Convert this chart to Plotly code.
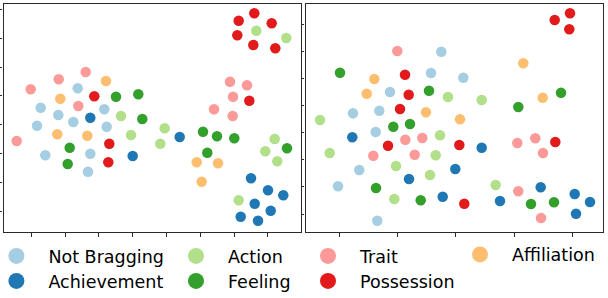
import plotly.graph_objects as go

# ---------------- data (arbitrary embedding units) ----------------
categories = ["Not Bragging", "Achievement", "Action", "Feeling",
              "Trait", "Possession", "Affiliation"]
colors = ["#a6cee3", "#1f78b4", "#b2df8a", "#33a02c",
          "#fb9a99", "#e31a1c", "#fdbf6f"]

# left panel
L_notbrag_x = [74.2, 37.2, 54.8, 69.8, 100.8, 33.5, 103.2, 41.8, 86.8, 84.5]
L_notbrag_y = [143.7, 124.3, 117, 110, 122.7, 106.3, 105.3, 76.7, 78.3, 60.3]
L_achieve_x = [86.8, 129.2, 176.2, 247.5, 264.5, 279.8, 251.2, 267.2, 237.2, 254.5]
L_achieve_y = [114.3, 76, 95, 53.7, 41.7, 36.7, 28.3, 21.3, 15.3, 11.3]
L_action_x = [252.8, 282.8, 117.5, 127.5, 161.2, 156.8, 271.2, 261.8, 273.8, 235.2]
L_action_y = [201.3, 194, 116, 97, 103.7, 88.3, 93, 80.7, 70.7, 31.7]
L_feeling_x = [112.5, 134.8, 138.8, 66.2, 64.2, 199.5, 213.5, 230.8, 203.8, 283.5]
L_feeling_y = [135.3, 137.7, 113, 84.3, 68, 100.3, 95.7, 93.7, 79.3, 83.7]
L_trait_x = [82.2, 55.2, 27.2, 74.8, 13.2, 226.5, 243.5, 229.5, 210.5, 229.2]
L_trait_y = [160, 152.7, 142.7, 126, 91, 150.3, 146.7, 135.3, 122.7, 116]
L_possess_x = [235.2, 250.8, 268.2, 233.8, 249.8, 271.8, 90.8, 105.8, 104.8, 245.8]
L_possess_y = [211.3, 218.7, 208.7, 196.7, 187, 183.7, 135.7, 88.3, 69.7, 131.3]
L_affil_x = [102.5, 56.8, 53.8, 83.8, 193.2, 214.5, 198.2]
L_affil_y = [151, 133.3, 97.7, 96.3, 69.7, 68.7, 50.3]

# right panel
R_notbrag_x = [135.8, 125.5, 157.8, 84.5, 47.5, 73.8, 70.2, 53.8, 32.5, 71.8]
R_notbrag_y = [180.3, 159, 154.3, 140, 118.7, 121.3, 100, 62, 45.7, 11.3]
R_achieve_x = [46.8, 176.2, 149.8, 103.5, 137.2, 194.5, 235.2, 269.2, 284.5, 270.5]
R_achieve_y = [94.7, 84.3, 63, 53, 35.3, 31, 44.7, 38, 30, 18.3]
R_action_x = [142.5, 176.2, 14.5, 134.5, 24.2, 130.2, 90.5, 124.5, 88.8, 190.2]
R_action_y = [135, 132, 112, 96.7, 79, 76.7, 66, 57, 33, 47]
R_feeling_x = [34.5, 123.5, 255.5, 212.8, 87.8, 104.5, 70.5, 115.2, 225.5, 248.5]
R_feeling_y = [159.3, 141.3, 139.3, 125, 105.3, 108, 44, 31.7, 28, 29.7]
R_trait_x = [91.8, 99.8, 116.8, 67.8, 109.2, 211.8, 229.8, 237.5, 212.8, 235.5]
R_trait_y = [181, 92.3, 94, 76.3, 77.3, 89, 93.7, 79, 40.7, 14]
R_possess_x = [249.2, 264.5, 263.8, 99.5, 103.2, 94.5, 82.5, 153.8, 249.8, 158.8]
R_possess_y = [212, 218.7, 202.7, 157.3, 137.3, 123, 86.3, 87, 90, 28.3]
R_affil_x = [217.8, 68.8, 61.2, 237.2, 120.5, 154.5]
R_affil_y = [168.7, 153, 138.3, 134.3, 119.7, 112.7]

left_sets = [(L_notbrag_x, L_notbrag_y), (L_achieve_x, L_achieve_y),
             (L_action_x, L_action_y), (L_feeling_x, L_feeling_y),
             (L_trait_x, L_trait_y), (L_possess_x, L_possess_y),
             (L_affil_x, L_affil_y)]
right_sets = [(R_notbrag_x, R_notbrag_y), (R_achieve_x, R_achieve_y),
              (R_action_x, R_action_y), (R_feeling_x, R_feeling_y),
              (R_trait_x, R_trait_y), (R_possess_x, R_possess_y),
              (R_affil_x, R_affil_y)]

# unlabeled tick positions
L_xticks = [27.7 + 33.8 * k for k in range(8)]
L_yticks = [20.7 + 28.86 * k for k in range(8)]
R_xticks = [33.8 + 58.25 * k for k in range(5)]
R_yticks = [18.0 + 27.14 * k for k in range(8)]

# ---------------- figure ----------------
W, H = 608, 298
fig = go.Figure()

MS = 10.5
for (xs, ys), col in zip(left_sets, colors):
    fig.add_trace(go.Scatter(x=xs, y=ys, mode="markers", xaxis="x", yaxis="y",
                             marker=dict(size=MS, color=col, line=dict(width=0)),
                             showlegend=False, hoverinfo="skip"))
for (xs, ys), col in zip(right_sets, colors):
    fig.add_trace(go.Scatter(x=xs, y=ys, mode="markers", xaxis="x2", yaxis="y2",
                             marker=dict(size=MS, color=col, line=dict(width=0)),
                             showlegend=False, hoverinfo="skip"))

# legend entries: one legend per entry so columns match the reference
# (marker centre in pixels, and right edge of the text for the first column)
leg_pos = {
    "Not Bragging": (17, 256), "Achievement": (17, 281),
    "Action": (196, 256), "Feeling": (196, 281),
    "Trait": (328, 256), "Possession": (328, 281),
    "Affiliation": (480, 254.5),
}
FONT_PX = 17.5
SYM_DX = 32              # symbol centre offset inside a legend box (itemwidth 54)
legend_layout = {}
for i, (cat, col) in enumerate(zip(categories, colors)):
    name = "legend" if i == 0 else f"legend{i + 1}"
    fig.add_trace(go.Scatter(x=[None], y=[None], mode="markers", name=cat,
                             marker=dict(size=16, color=col, line=dict(width=0)),
                             legend=name, showlegend=True, xaxis="x", yaxis="y"))
    px, py = leg_pos[cat]
    if px - SYM_DX < 0:
        # anchor on the right: box width = 5 + 64 + text width (~115 px)
        lx, anchor = px - SYM_DX + 5 + 64 + 115.4, "right"
    else:
        lx, anchor = px - SYM_DX, "left"
    legend_layout[name] = dict(
        x=lx / W, y=1 - py / H,
        xref="container", yref="container",
        xanchor=anchor, yanchor="middle", itemwidth=54,
        bgcolor="rgba(0,0,0,0)", borderwidth=0,
        font=dict(family="DejaVu Sans", size=FONT_PX, color="black"),
        tracegroupgap=0,
    )

axis_common = dict(showgrid=False, zeroline=False, showline=True, mirror=True,
                   linecolor="#2b2b2b", linewidth=1.3, ticks="outside",
                   ticklen=3.5, tickwidth=1.2, tickcolor="#2b2b2b",
                   showticklabels=False)

left_x0, left_x1 = 3.5, 301
right_x0, right_x1 = 305.5, 603
top_y, bot_y = 3.5, 232

fig.update_layout(
    width=W, height=H,
    margin=dict(l=0, r=0, t=0, b=0, autoexpand=False),
    paper_bgcolor="white", plot_bgcolor="white",
    xaxis=dict(domain=[left_x0 / W, left_x1 / W], range=[0, 297.5],
               tickvals=L_xticks, **axis_common),
    yaxis=dict(domain=[1 - bot_y / H, 1 - top_y / H], range=[0, 228.5],
               tickvals=L_yticks, **axis_common),
    xaxis2=dict(domain=[right_x0 / W, right_x1 / W], range=[0, 297.5],
                tickvals=R_xticks, anchor="y2", **axis_common),
    yaxis2=dict(domain=[1 - bot_y / H, 1 - top_y / H], range=[0, 228.5],
                tickvals=R_yticks, anchor="x2", **axis_common),
    **legend_layout,
)

# remove the browser's default 8px page margin so the figure fills the window
fig.write_html("out.html", config={"displayModeBar": False},
               post_script="document.body.style.margin='0';document.body.style.overflow='hidden';")
